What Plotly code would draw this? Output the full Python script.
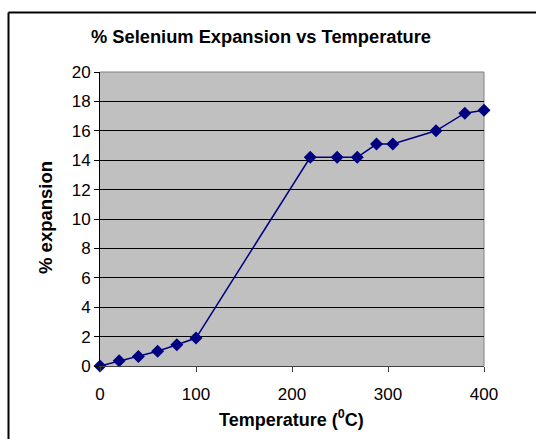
import plotly.graph_objects as go

temperature = [0, 20, 40, 60, 80, 100, 219, 247, 268, 288, 305, 350, 380, 400]
expansion = [0, 0.35, 0.65, 1.0, 1.45, 1.9, 14.2, 14.2, 14.2, 15.1, 15.1, 16.0, 17.2, 17.4]

x_ticks = [0, 100, 200, 300, 400]
y_ticks = [0, 2, 4, 6, 8, 10, 12, 14, 16, 18, 20]

FONT = "Liberation Sans, Arial, sans-serif"
NAVY = "#000080"

fig = go.Figure()
fig.add_trace(go.Scatter(
    x=temperature, y=expansion, mode="lines+markers",
    line=dict(color=NAVY, width=1.5),
    marker=dict(symbol="diamond", size=10, color=NAVY),
    cliponaxis=False, showlegend=False,
))

L, R, T, B = 100, 484, 72, 366
W, H = 536, 439

def px_x(p):
    return (p - L) / (R - L)

def px_y(p):
    return (B - p) / (B - T)

fig.update_layout(
    width=W, height=H,
    margin=dict(l=L, r=W - R, t=T, b=H - B),
    paper_bgcolor="white", plot_bgcolor="#C0C0C0",
    font=dict(family=FONT, size=17, color="black"),
    title=dict(text="<b>% Selenium Expansion vs Temperature</b>",
               x=261 / W, xanchor="center", y=1 - 37 / H, yanchor="middle",
               font=dict(size=18.3, family=FONT, color="black")),
    xaxis=dict(range=[0, 400], tickvals=x_ticks, showgrid=False, zeroline=False,
               showline=True, linecolor="#404040", linewidth=1,
               ticks="outside", ticklen=5, tickcolor="#404040",
               ticklabelstandoff=8,
               tickfont=dict(size=17, family=FONT)),
    yaxis=dict(range=[0, 20], tickvals=y_ticks, showgrid=True, gridcolor="black",
               gridwidth=1, zeroline=False,
               showline=True, linecolor="black", linewidth=1,
               ticks="outside", ticklen=5, tickcolor="black",
               tickfont=dict(size=17, family=FONT)),
    shapes=[
        dict(type="line", xref="paper", yref="paper", x0=0, x1=1, y0=1, y1=1,
             line=dict(color="#808080", width=1), layer="between"),
        dict(type="line", xref="paper", yref="paper", x0=1, x1=1, y0=0, y1=1,
             line=dict(color="#808080", width=1), layer="between"),
        dict(type="line", xref="paper", yref="paper", x0=px_x(8.5), x1=px_x(540),
             y0=px_y(12.5), y1=px_y(12.5), line=dict(color="black", width=2)),
        dict(type="line", xref="paper", yref="paper", x0=px_x(8.5), x1=px_x(8.5),
             y0=px_y(12.5), y1=px_y(445), line=dict(color="black", width=2)),
    ],
    annotations=[
        dict(text="<b>% expansion</b>", xref="paper", yref="paper",
             x=px_x(45), y=px_y(218), textangle=-90, showarrow=False,
             xanchor="center", yanchor="middle", font=dict(size=18.5, family=FONT)),
        dict(text="<b>Temperature (<sup>0</sup>C)</b>", xref="paper", yref="paper",
             x=px_x(291), y=px_y(418), showarrow=False,
             xanchor="center", yanchor="middle", font=dict(size=18, family=FONT)),
    ],
)

fig.write_html("out.html")
